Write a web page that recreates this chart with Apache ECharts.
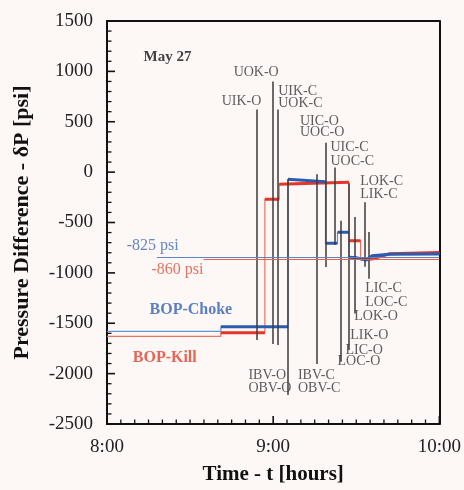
<!DOCTYPE html>
<html>
<head>
<meta charset="utf-8">
<script src="https://cdn.jsdelivr.net/npm/echarts@6/dist/echarts.min.js"></script>
<style>
  html, body { margin: 0; padding: 0; background: #fdf7f6; }
  #chart { width: 464px; height: 490px; }
</style>
</head>
<body>
<div id="chart"></div>
<script>
// time in hours (8.0 = 8:00), pressure difference in psi
const chokeTime = [8.00, 8.685, 8.685, 9.089, 9.089, 9.315, 9.315, 9.387, 9.387, 9.456, 9.456, 9.50, 9.56, 9.595, 9.70, 10.0];
const chokePsi  = [-1580, -1580, -1535, -1535, -70, -95, -705, -705, -597, -597, -844, -850, -872, -830, -815, -812];

const killTime = [8.00, 8.685, 8.685, 8.95, 8.95, 9.036, 9.036, 9.456, 9.456, 9.526, 9.526, 9.595, 9.70, 10.0];
const killPsi  = [-1630, -1630, -1595, -1595, -268, -268, -120, -100, -680, -680, -862, -862, -810, -798];

// reference levels
const chokeRef = { start: 8.30, psi: -840 };
const killRef = { start: 8.58, psi: -868 };

// valve events (vertical lines)
const eventTime   = [8.901, 8.996, 9.030, 9.089, 9.262, 9.317, 9.371, 9.407, 9.456, 9.488, 9.554, 9.576];
const eventTop    = [621, 900, 621, -70, -21, 292, 45, -482, -110, -446, -298, -594];
const eventBottom = [-1667, -1707, -1717, -2211, -1904, -942, -720, -1881, -1766, -1404, -940, -1058];

// event labels
const labelText = ['UOK-O', 'UIK-O', 'UIK-C', 'UOK-C', 'UIC-O', 'UOC-O', 'UIC-C', 'UOC-C',
  'LOK-C', 'LIK-C', 'LIC-C', 'LOC-C', 'LOK-O', 'LIK-O', 'LIC-O', 'LOC-O',
  'IBV-O', 'OBV-O', 'IBV-C', 'OBV-C'];
const labelTime = [8.762, 8.690, 9.030, 9.030, 9.161, 9.161, 9.345, 9.345,
  9.524, 9.524, 9.554, 9.554, 9.488, 9.464, 9.435, 9.387,
  8.851, 8.851, 9.149, 9.149];
const labelPsi = [986, 703, 802, 687, 505, 391, 243, 110,
  -87, -219, -1157, -1288, -1433, -1621, -1766, -1878,
  -2016, -2144, -2016, -2144];

// axis ranges
const xMin = 8, xMax = 10, xStep = 1, xMinorSplit = 12;
const yMin = -2500, yMax = 1500, yStep = 500, yMinorSplit = 5;

const serif = 'Liberation Serif';
const blue = '#2b5cb0';
const red = '#e5352a';

function points(ts, vs) {
  return ts.map((t, i) => [t, vs[i]]);
}

// thick horizontal parts only, broken at the jumps
function thickPath(ts, vs) {
  const out = [];
  for (let i = 0; i < ts.length - 1; i++) {
    if (ts[i] < 8.6) continue;
    if (ts[i + 1] === ts[i]) { out.push([ts[i], '-']); continue; }
    out.push([ts[i], vs[i]], [ts[i + 1], vs[i + 1]]);
  }
  return out;
}

function textSeries(items, style) {
  return {
    type: 'scatter',
    silent: true,
    symbolSize: 0,
    z: 6,
    data: items.map(d => ({ value: [d[0], d[1], d[2]] })),
    label: Object.assign({
      show: true,
      position: [0, 0],
      align: 'left',
      verticalAlign: 'middle',
      fontFamily: serif,
      formatter: p => p.value[2]
    }, style)
  };
}

// plain frame line for the top and right sides
function frameAxis(pos, min, max) {
  return {
    type: 'value', position: pos, min: min, max: max,
    axisLine: { show: true, onZero: false, lineStyle: { color: '#111', width: 2 } },
    axisTick: { show: false },
    axisLabel: { show: false },
    splitLine: { show: false }
  };
}

const chart = echarts.init(document.getElementById('chart'));

const option = {
  backgroundColor: '#fdf7f6',
  animation: false,
  grid: { left: 107, right: 21, top: 21, bottom: 64 },
  xAxis: [{
    type: 'value',
    min: xMin, max: xMax, interval: xStep,
    name: 'Time - t [hours]',
    nameLocation: 'middle',
    nameGap: 40,
    nameTextStyle: { fontFamily: serif, fontSize: 21, fontWeight: 'bold', color: '#111' },
    axisLine: { show: true, onZero: false, lineStyle: { color: '#111', width: 2 } },
    axisTick: { show: false },
    splitLine: { show: false },
    axisLabel: {
      margin: 14, fontFamily: serif, fontSize: 19, color: '#222',
      formatter: v => v + ':00'
    }
  }, frameAxis('top', xMin, xMax)],
  yAxis: [{
    type: 'value',
    min: yMin, max: yMax, interval: yStep,
    name: 'Pressure Difference - δP [psi]',
    nameLocation: 'middle',
    nameGap: 74,
    nameTextStyle: { fontFamily: serif, fontSize: 22, fontWeight: 'bold', color: '#111' },
    axisLine: { show: true, onZero: false, lineStyle: { color: '#111', width: 2 } },
    axisTick: { show: false },
    splitLine: { show: false },
    axisLabel: {
      margin: 14, fontFamily: serif, fontSize: 19, color: '#222',
      formatter: v => String(v)
    }
  }, frameAxis('right', yMin, yMax)],
  series: [
    {
      // valve event lines
      type: 'line',
      data: [],
      silent: true,
      z: 1,
      markLine: {
        silent: true,
        symbol: 'none',
        label: { show: false },
        lineStyle: { color: '#3a3a3a', width: 1.5, type: 'solid' },
        data: eventTime.map((t, i) => [{ coord: [t, eventTop[i]] }, { coord: [t, eventBottom[i]] }])
      }
    },
    {
      // reference levels
      type: 'line',
      data: [],
      silent: true,
      z: 2,
      markLine: {
        silent: true,
        symbol: 'none',
        label: { show: false },
        data: [
          [{ coord: [chokeRef.start, chokeRef.psi], lineStyle: { color: '#5a86c8', width: 1, type: 'solid' } },
           { coord: [10, chokeRef.psi] }],
          [{ coord: [killRef.start, killRef.psi], lineStyle: { color: '#e8604f', width: 1, type: 'solid' } },
           { coord: [10, killRef.psi] }]
        ]
      }
    },
    {
      type: 'line', silent: true, symbol: 'none', z: 3,
      data: points(killTime, killPsi),
      lineStyle: { color: '#ea7262', width: 1.2 }
    },
    {
      type: 'line', silent: true, symbol: 'none', z: 3,
      data: points(chokeTime, chokePsi),
      lineStyle: { color: '#6a92d0', width: 1.2 }
    },
    {
      type: 'line', silent: true, symbol: 'none', z: 4, connectNulls: false,
      data: thickPath(killTime, killPsi),
      lineStyle: { color: red, width: 3 }
    },
    {
      type: 'line', silent: true, symbol: 'none', z: 4, connectNulls: false,
      data: thickPath(chokeTime, chokePsi),
      lineStyle: { color: blue, width: 3 }
    },
    textSeries(labelText.map((s, i) => [labelTime[i], labelPsi[i], s]),
      { fontSize: 14, color: '#333' }),
    textSeries([[8.22, 1144, 'May 27']],
      { fontSize: 15, fontWeight: 'bold', color: '#111' }),
    textSeries([[8.119, -732, '-825 psi']],
      { fontSize: 16, color: '#3a6ab8' }),
    textSeries([[8.268, -969, '-860 psi']],
      { fontSize: 16, color: '#e0503e' }),
    textSeries([[8.256, -1364, 'BOP-Choke']],
      { fontSize: 16, fontWeight: 'bold', color: '#2f62b8' }),
    textSeries([[8.155, -1848, 'BOP-Kill']],
      { fontSize: 16, fontWeight: 'bold', color: '#e0402f' })
  ]
};

chart.setOption(option);

// inward ticks, placed through the axis scales once the grid is laid out
const ticks = [];
for (let i = 0; i <= (xMax - xMin) / xStep * xMinorSplit; i++) {
  const major = i % xMinorSplit === 0;
  const p = chart.convertToPixel({ gridIndex: 0 }, [xMin + i * xStep / xMinorSplit, yMin]);
  ticks.push({
    type: 'line', silent: true, z: 100,
    shape: { x1: p[0], y1: p[1], x2: p[0], y2: p[1] - (major ? 8 : 4.5) },
    style: { stroke: '#111', lineWidth: major ? 1.6 : 1.3 }
  });
}
for (let i = 0; i <= (yMax - yMin) / yStep * yMinorSplit; i++) {
  const major = i % yMinorSplit === 0;
  const p = chart.convertToPixel({ gridIndex: 0 }, [xMin, yMin + i * yStep / yMinorSplit]);
  ticks.push({
    type: 'line', silent: true, z: 100,
    shape: { x1: p[0], y1: p[1], x2: p[0] + (major ? 8 : 4.5), y2: p[1] },
    style: { stroke: '#111', lineWidth: major ? 1.6 : 1.3 }
  });
}
chart.setOption({ graphic: ticks });
</script>
</body>
</html>
